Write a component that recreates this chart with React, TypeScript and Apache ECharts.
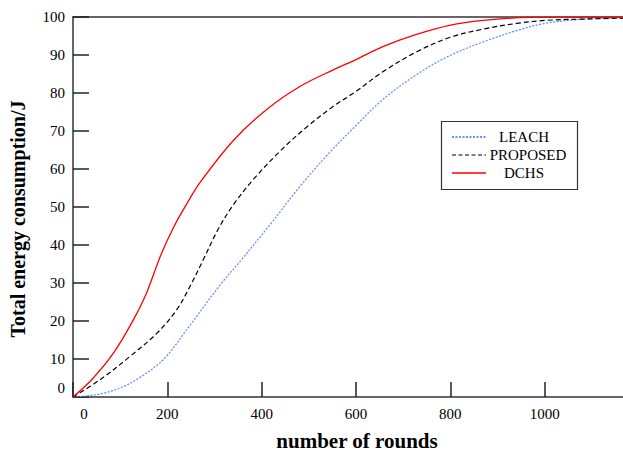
import React, { useEffect, useRef } from "react";
import * as echarts from "echarts";

const seriesNames = ["LEACH", "PROPOSED", "DCHS"];

const leachData: number[][] = [
  [0, 0], [30, 0.3], [65, 1], [100, 2.4], [135, 4.6], [191, 9.8], [241, 17.7], [312, 29.5],
  [357, 36.1], [418, 45.4], [481, 55.4], [540, 63.8], [598, 71.2], [657, 78.3], [728, 84.8],
  [798, 89.8], [869, 93.4], [940, 96.4], [1000, 98.3], [1080, 99.4], [1166, 99.8],
];

const proposedData: number[][] = [
  [0, 0], [58, 4.6], [121, 10.7], [178, 16.8], [220, 23], [248, 29.1], [276, 36.1],
  [308, 44.2], [340, 50.6], [382, 57.2], [439, 64.7], [495, 71], [552, 76.5], [600, 80.4],
  [657, 85.6], [728, 90.8], [798, 94.6], [869, 96.8], [940, 98.3], [1000, 99.1],
  [1095, 99.5], [1166, 99.7],
];

const dchsData: number[][] = [
  [0, 0], [40, 4.6], [86, 11.6], [128, 20.3], [156, 27.4], [185, 37], [213, 44.6],
  [241, 50.8], [269, 56.4], [340, 67.5], [410, 75.6], [481, 81.7], [552, 86.1], [600, 88.8],
  [657, 92.2], [728, 95.4], [798, 97.8], [869, 99.1], [968, 99.9], [1166, 100],
];

const xTicks = { min: 0, max: 1166, interval: 200 };
const yTicks = { min: 0, max: 100, interval: 10 };

const FONT = "Liberation Serif";

export default function App() {
  const ref = useRef<HTMLDivElement>(null);
  useEffect(() => {
    if (!ref.current) return;
    const chart = echarts.init(ref.current, undefined, { renderer: "svg" });
    const axisLine = { show: true, lineStyle: { color: "#333", width: 1.5 } };
    const lineCommon = { type: "line", smooth: 0.35, showSymbol: false };
    chart.setOption({
      animation: false,
      backgroundColor: "#fff",
      grid: { left: 73, right: 0, top: 17, bottom: 54, outerBoundsMode: "none", containLabel: false },
      xAxis: [
        {
          type: "value",
          min: xTicks.min,
          max: xTicks.max,
          interval: xTicks.interval,
          position: "bottom",
          axisLine,
          axisTick: { show: true, inside: true, length: 15, lineStyle: { color: "#222", width: 1.5 } },
          splitLine: { show: false },
          axisLabel: {
            color: "#000",
            fontFamily: FONT,
            fontSize: 15,
            margin: 9,
            showMaxLabel: false,
            formatter: (v: number) => (v === 0 ? "{z|0}" : String(v)),
            rich: { z: { fontFamily: FONT, fontSize: 15, color: "#000", padding: [0, 0, 0, 22] } },
          },
          name: "number of rounds",
          nameLocation: "middle",
          nameGap: 33,
          nameTextStyle: {
            fontFamily: FONT,
            fontSize: 21,
            fontWeight: "bold",
            color: "#000",
            padding: [0, 0, 0, 18],
          },
        },
        {
          type: "value",
          min: xTicks.min,
          max: xTicks.max,
          position: "top",
          axisLine,
          axisTick: { show: false },
          axisLabel: { show: false },
          splitLine: { show: false },
        },
      ],
      yAxis: {
        type: "value",
        min: yTicks.min,
        max: yTicks.max,
        interval: yTicks.interval,
        axisLine,
        axisTick: { show: true, inside: true, length: 16, lineStyle: { color: "#222", width: 1.5 } },
        splitLine: { show: false },
        axisLabel: {
          color: "#000",
          fontFamily: FONT,
          fontSize: 15,
          margin: 8,
          formatter: (v: number) => (v === 0 ? "{z|0}" : String(v)),
          rich: { z: { fontFamily: FONT, fontSize: 15, color: "#000", padding: [0, 0, 18, 0] } },
        },
        name: "Total energy consumption/J",
        nameLocation: "middle",
        nameGap: 45,
        nameTextStyle: {
          fontFamily: FONT,
          fontSize: 20,
          fontWeight: "bold",
          color: "#000",
          padding: [0, 24, 0, 0],
        },
      },
      series: [
        {
          ...lineCommon,
          name: seriesNames[0],
          data: leachData,
          lineStyle: { color: "#5f86ff", width: 1.2, type: [2, 1.5] },
        },
        {
          ...lineCommon,
          name: seriesNames[1],
          data: proposedData,
          lineStyle: { color: "#000", width: 1.2, type: [5, 3] },
        },
        {
          ...lineCommon,
          name: seriesNames[2],
          data: dchsData,
          lineStyle: { color: "#ff0000", width: 1.3, type: "solid" },
        },
      ],
      graphic: [
        {
          type: "rect",
          shape: { x: 441.5, y: 121.5, width: 136, height: 68 },
          style: { fill: "#fff", stroke: "#333", lineWidth: 1.2 },
          z: 10,
        },
        {
          type: "line",
          shape: { x1: 452, y1: 137, x2: 487, y2: 137 },
          style: { stroke: "#3a6cff", lineWidth: 1.5, lineDash: [2, 1.5] },
          z: 11,
        },
        {
          type: "line",
          shape: { x1: 452, y1: 155, x2: 486, y2: 155 },
          style: { stroke: "#000", lineWidth: 1.2, lineDash: [4, 2.5] },
          z: 11,
        },
        {
          type: "line",
          shape: { x1: 452, y1: 173, x2: 486, y2: 173 },
          style: { stroke: "#ff0000", lineWidth: 1.3 },
          z: 11,
        },
        {
          type: "text",
          x: 524,
          y: 137,
          style: { text: seriesNames[0], font: `15px '${FONT}'`, fill: "#000", align: "center", verticalAlign: "middle" },
          z: 11,
        },
        {
          type: "text",
          x: 528,
          y: 155,
          style: { text: seriesNames[1], font: `15px '${FONT}'`, fill: "#000", align: "center", verticalAlign: "middle" },
          z: 11,
        },
        {
          type: "text",
          x: 524,
          y: 173,
          style: { text: seriesNames[2], font: `15px '${FONT}'`, fill: "#000", align: "center", verticalAlign: "middle" },
          z: 11,
        },
      ],
    });
    return () => chart.dispose();
  }, []);
  return (
    <div
      ref={ref}
      style={{ position: "fixed", left: 0, top: 0, width: 623, height: 451, background: "#fff" }}
    />
  );
}
